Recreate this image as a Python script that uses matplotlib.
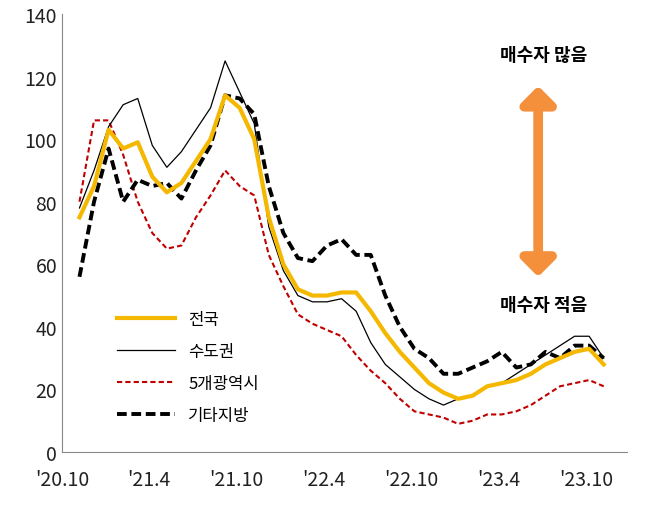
import matplotlib
matplotlib.use("Agg")
import matplotlib.pyplot as plt
from matplotlib import font_manager

cands = ['Noto Sans CJK KR', 'Noto Sans CJK JP', 'Noto Sans CJK SC', 'Noto Sans CJK TC']
avail = {f.name for f in font_manager.fontManager.ttflist}
fams = [c for c in cands if c in avail] + ['DejaVu Sans']
plt.rcParams['font.family'] = fams

tick_labels = ["'20.10", "'21.4", "'21.10", "'22.4", "'22.10", "'23.4", "'23.10"]
national = [75, 85, 103, 97, 99, 88, 83, 86, 93, 100, 114, 110, 100, 75, 60, 52, 50, 50, 51, 51, 45, 38, 32, 27, 22, 19, 17, 18, 21, 22, 23, 25, 28, 30, 32, 33, 28]
capital = [78, 90, 104, 111, 113, 98, 91, 96, 103, 110, 125, 115, 105, 72, 58, 50, 48, 48, 49, 45, 35, 28, 24, 20, 17, 15, 17, 18, 21, 22, 25, 28, 31, 34, 37, 37, 30]
metro5 = [80, 106, 106, 95, 80, 70, 65, 66, 75, 82, 90, 85, 82, 63, 53, 44, 41, 39, 37, 31, 26, 22, 17, 13, 12, 11, 9, 10, 12, 12, 13, 15, 18, 21, 22, 23, 21]
others = [56, 80, 97, 80, 87, 85, 86, 81, 90, 98, 114, 113, 108, 85, 70, 62, 61, 66, 68, 63, 63, 50, 40, 33, 30, 25, 25, 27, 29, 32, 27, 28, 32, 30, 34, 34, 30]

fig = plt.figure(figsize=(6.49, 5.06), dpi=100)
ax = fig.add_axes([62/649, 53/506, 565/649, 438/506])
x = list(range(len(national)))
ax.plot(x, capital, color='black', lw=0.9, label='수도권', zorder=3)
ax.plot(x, metro5, color='#c00000', lw=1.5, ls=(0, (2.5, 1.5)), label='5개광역시', zorder=2)
ax.plot(x, others, color='black', lw=2.8, ls=(0, (2.5, 1.2)), label='기타지방', zorder=2)
ax.plot(x, national, color='#f5b800', lw=3, label='전국', zorder=4)

ax.set_ylim(0, 140)
ax.set_yticks(range(0, 141, 20))
ax.set_xlim(-1.2, 37.6)
ax.set_xticks([-1.2 + 6 * k for k in range(7)])
ax.set_xticklabels(tick_labels)
ax.tick_params(labelsize=14, length=0, colors='#222222')
ax.tick_params(axis='x', pad=12)
for s in ['top', 'right']:
    ax.spines[s].set_visible(False)
ax.spines['left'].set_color('#888888')
ax.spines['bottom'].set_color('#888888')

h, l = ax.get_legend_handles_labels()
order = [3, 0, 1, 2]
ax.legend([h[i] for i in order], [l[i] for i in order], loc='lower left',
          bbox_to_anchor=(0.07, 0.03), frameon=False, fontsize=12, handlelength=3.5,
          labelspacing=0.9)

ax.annotate('', xy=(31.5, 56), xytext=(31.5, 117),
            arrowprops=dict(arrowstyle='<|-|>,head_width=1.0,head_length=1.0',
                            color='#f4903c', lw=7, shrinkA=0, shrinkB=0))
ax.text(31.9, 127, '매수자 많음', ha='center', va='center', fontsize=13, fontweight='bold')
ax.text(31.9, 47, '매수자 적음', ha='center', va='center', fontsize=13, fontweight='bold')

fig.savefig('out.png', dpi=100)
